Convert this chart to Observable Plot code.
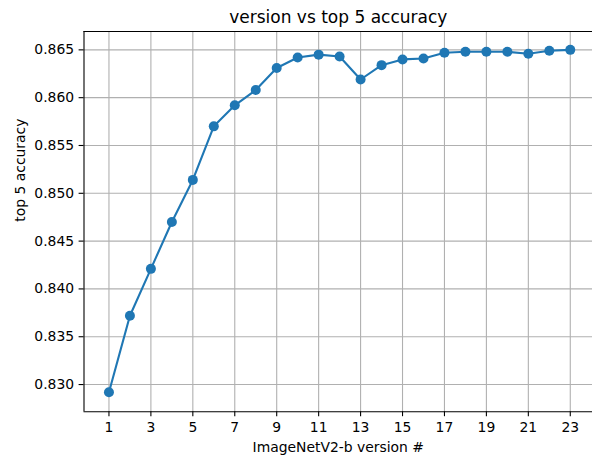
<!DOCTYPE html>
<html>
<head>
<meta charset="utf-8">
<script src="https://cdn.jsdelivr.net/npm/d3@7"></script>
<script src="https://cdn.jsdelivr.net/npm/@observablehq/plot@0.6"></script>
<style>
  html, body { margin: 0; padding: 0; background: #fff; }
  svg { display: block; }
</style>
</head>
<body>
<div id="chart"></div>
<script>
const versions = d3.range(1, 24);
const top5Accuracy = [
  0.8292, 0.8372, 0.8421, 0.8470, 0.8514, 0.8570, 0.8592, 0.8608, 0.8631,
  0.8642, 0.8645, 0.8643, 0.8619, 0.8634, 0.8640, 0.8641, 0.8647, 0.8648,
  0.8648, 0.8648, 0.8646, 0.8649, 0.8650
];
const xTicks = [1, 3, 5, 7, 9, 11, 13, 15, 17, 19, 21, 23];
const yTicks = [0.830, 0.835, 0.840, 0.845, 0.850, 0.855, 0.860, 0.865];
const titleText = "version vs top 5 accuracy";
const xLabel = "ImageNetV2-b version #";
const yLabel = "top 5 accuracy";

const data = versions.map((v, i) => ({version: v, acc: top5Accuracy[i]}));

const xDomain = [-0.19, 24.06];
const yDomain = [0.82715, 0.86692];
const font = "DejaVu Sans, sans-serif";

const chart = Plot.plot({
  width: 592,
  height: 459,
  marginLeft: 83.5,
  marginRight: 0,
  marginTop: 31,
  marginBottom: 47.7,
  style: {fontFamily: font, fontSize: "13.9px", color: "black", background: "white"},
  x: {domain: xDomain},
  y: {domain: yDomain},
  marks: [
    Plot.gridX(xTicks, {stroke: "#b0b0b0", strokeOpacity: 1, strokeWidth: 1.1}),
    Plot.gridY(yTicks, {stroke: "#b0b0b0", strokeOpacity: 1, strokeWidth: 1.1}),
    Plot.ruleX([xDomain[0]], {stroke: "black", strokeWidth: 1.1}),
    Plot.ruleY([yDomain[0], yDomain[1]], {stroke: "black", strokeWidth: 1.1}),
    Plot.axisX(xTicks, {tickSize: 4.9, tickPadding: 5, label: null, fontSize: 13.9, stroke: "black", strokeWidth: 1.1}),
    Plot.axisY(yTicks, {tickSize: 4.9, tickPadding: 5, label: null, fontSize: 13.9, tickFormat: d3.format(".3f"), stroke: "black", strokeWidth: 1.1}),
    Plot.line(data, {x: "version", y: "acc", stroke: "#1f77b4", strokeWidth: 2.1}),
    Plot.dot(data, {x: "version", y: "acc", fill: "#1f77b4", r: 5, stroke: "none"}),
    Plot.text([titleText], {frameAnchor: "top", dy: -9, lineAnchor: "bottom", fontSize: 17, fill: "black"}),
    Plot.text([xLabel], {frameAnchor: "bottom", dy: 40, lineAnchor: "bottom", fontSize: 13.9, fill: "black"}),
    Plot.text([yLabel], {frameAnchor: "left", dx: -59.5, rotate: -90, lineAnchor: "bottom", fontSize: 13.9, fill: "black"})
  ]
});

document.getElementById("chart").appendChild(chart);
</script>
</body>
</html>
